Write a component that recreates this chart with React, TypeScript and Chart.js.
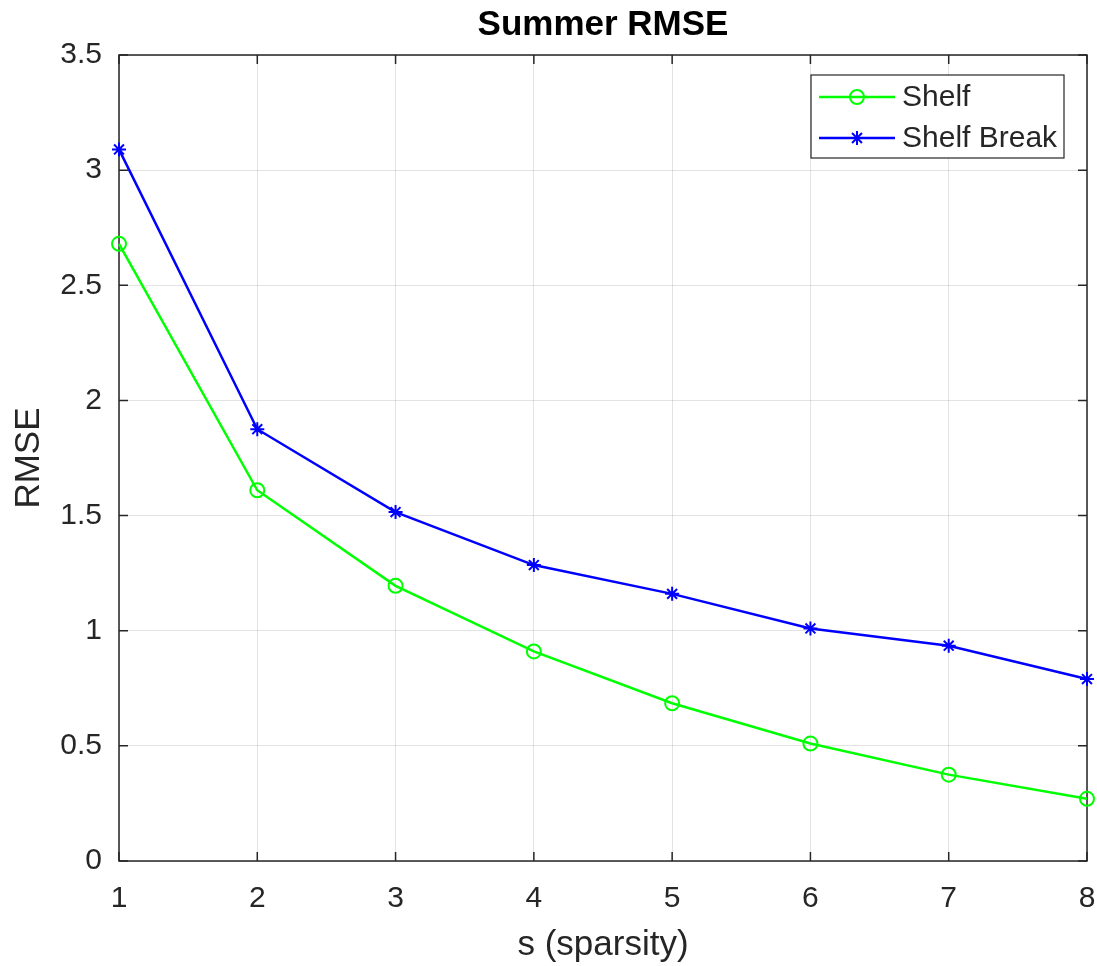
import React, { useEffect, useRef } from 'react';
import { Chart, registerables } from 'chart.js';

Chart.register(...registerables);

const sparsity = [1, 2, 3, 4, 5, 6, 7, 8];
const shelfRMSE = [2.68, 1.61, 1.195, 0.91, 0.685, 0.51, 0.375, 0.27];
const shelfBreakRMSE = [3.09, 1.875, 1.515, 1.285, 1.16, 1.01, 0.935, 0.79];
const xTickLabels = ['1', '2', '3', '4', '5', '6', '7', '8'];
const yTickLabels = ['0', '0.5', '1', '1.5', '2', '2.5', '3', '3.5'];
const seriesNames = ['Shelf', 'Shelf Break'];
const chartTitle = 'Summer RMSE';
const xAxisTitle = 's (sparsity)';
const yAxisTitle = 'RMSE';

const FONT = '"Liberation Sans", Arial, Helvetica, sans-serif';
const AXIS = '#262626';
const GREEN = '#00ff00';
const BLUE = '#0000ff';

const boxPlugin = {
  id: 'matlabBox',
  beforeDatasetsDraw(chart: any) {
    const { ctx, chartArea, scales } = chart;
    const { left, right, top, bottom } = chartArea;
    const xs = scales.x;
    const ys = scales.y;
    const tl = 9;
    ctx.save();
    ctx.strokeStyle = AXIS;
    ctx.lineWidth = 1.5;
    ctx.beginPath();
    xs.ticks.forEach((t: any) => {
      const px = xs.getPixelForValue(t.value);
      ctx.moveTo(px, bottom);
      ctx.lineTo(px, bottom - tl);
      ctx.moveTo(px, top);
      ctx.lineTo(px, top + tl);
    });
    ys.ticks.forEach((t: any) => {
      const py = ys.getPixelForValue(t.value);
      ctx.moveTo(left, py);
      ctx.lineTo(left + tl, py);
      ctx.moveTo(right, py);
      ctx.lineTo(right - tl, py);
    });
    ctx.stroke();
    ctx.strokeRect(left, top, right - left, bottom - top);
    ctx.restore();
  },
  afterDraw(chart: any) {
    const { ctx, chartArea } = chart;
    const { left, right, top, bottom } = chartArea;
    ctx.save();
    // title
    ctx.fillStyle = '#000000';
    ctx.font = `bold 35px ${FONT}`;
    ctx.textAlign = 'center';
    ctx.textBaseline = 'alphabetic';
    ctx.fillText(chartTitle, (left + right) / 2, 35);
    // x axis title
    ctx.fillStyle = AXIS;
    ctx.font = `35px ${FONT}`;
    ctx.fillText(xAxisTitle, (left + right) / 2, 955);
    // y axis title
    ctx.save();
    ctx.translate(39, (top + bottom) / 2);
    ctx.rotate(-Math.PI / 2);
    ctx.fillText(yAxisTitle, 0, 0);
    ctx.restore();

    // legend
    const bx = 811, by = 75, bw = 253, bh = 83;
    ctx.fillStyle = '#ffffff';
    ctx.fillRect(bx, by, bw, bh);
    ctx.strokeStyle = AXIS;
    ctx.lineWidth = 1.2;
    ctx.strokeRect(bx, by, bw, bh);
    const rows = [97, 138];
    const colors = [GREEN, BLUE];
    rows.forEach((ry, i) => {
      ctx.strokeStyle = colors[i];
      ctx.lineWidth = 2.5;
      ctx.beginPath();
      ctx.moveTo(819, ry);
      ctx.lineTo(895, ry);
      ctx.stroke();
      ctx.lineWidth = 2;
      if (i === 0) {
        ctx.beginPath();
        ctx.arc(857, ry, 7, 0, Math.PI * 2);
        ctx.stroke();
      } else {
        const r = 7;
        ctx.beginPath();
        ctx.moveTo(857 - r, ry); ctx.lineTo(857 + r, ry);
        ctx.moveTo(857, ry - r); ctx.lineTo(857, ry + r);
        const d = r * Math.SQRT1_2;
        ctx.moveTo(857 - d, ry - d); ctx.lineTo(857 + d, ry + d);
        ctx.moveTo(857 - d, ry + d); ctx.lineTo(857 + d, ry - d);
        ctx.stroke();
      }
      ctx.fillStyle = AXIS;
      ctx.font = `30px ${FONT}`;
      ctx.textAlign = 'left';
      ctx.textBaseline = 'middle';
      ctx.fillText(seriesNames[i], 902, ry + 1);
    });
    ctx.restore();
  },
};

export default function App() {
  const ref = useRef<HTMLCanvasElement>(null);
  useEffect(() => {
    document.body.style.margin = '0';
    const canvas = ref.current!;
    const chart = new Chart(canvas, {
      type: 'line',
      data: {
        datasets: [
          {
            label: seriesNames[0],
            data: sparsity.map((s, i) => ({ x: s, y: shelfRMSE[i] })),
            borderColor: GREEN,
            backgroundColor: 'transparent',
            borderWidth: 2.5,
            pointStyle: 'circle',
            pointRadius: 7,
            pointBorderWidth: 2,
            pointBorderColor: GREEN,
            pointBackgroundColor: 'transparent',
            tension: 0,
            clip: false as any,
          },
          {
            label: seriesNames[1],
            data: sparsity.map((s, i) => ({ x: s, y: shelfBreakRMSE[i] })),
            borderColor: BLUE,
            backgroundColor: 'transparent',
            borderWidth: 2.5,
            pointStyle: 'star',
            pointRadius: 7,
            pointBorderWidth: 2,
            pointBorderColor: BLUE,
            pointBackgroundColor: BLUE,
            tension: 0,
            clip: false as any,
          },
        ],
      },
      options: {
        animation: false,
        responsive: false,
        maintainAspectRatio: false,
        layout: { padding: { top: 55, right: 10, bottom: 0, left: 0 } },
        plugins: {
          legend: { display: false },
          title: { display: false },
          tooltip: { enabled: false },
        },
        scales: {
          x: {
            type: 'linear',
            min: 1,
            max: 8,
            afterFit: (s: any) => { s.height = 105; s.paddingLeft = 0; s.paddingRight = 0; },
            border: { display: false },
            grid: { color: 'rgba(0,0,0,0.11)', lineWidth: 1, drawTicks: false },
            ticks: {
              stepSize: 1,
              padding: 20,
              color: AXIS,
              font: { family: FONT, size: 30 },
              maxRotation: 0,
              callback: (_v: any, i: number) => xTickLabels[i],
            },
          },
          y: {
            type: 'linear',
            min: 0,
            max: 3.5,
            afterFit: (s: any) => { s.width = 119; s.paddingTop = 0; s.paddingBottom = 0; },
            border: { display: false },
            grid: { color: 'rgba(0,0,0,0.11)', lineWidth: 1, drawTicks: false },
            ticks: {
              stepSize: 0.5,
              padding: 17,
              color: AXIS,
              font: { family: FONT, size: 30 },
              callback: (_v: any, i: number) => yTickLabels[i],
            },
          },
        },
      },
      plugins: [boxPlugin],
    });
    return () => chart.destroy();
  }, []);
  return <canvas ref={ref} width={1097} height={966} style={{ display: 'block' }} />;
}
